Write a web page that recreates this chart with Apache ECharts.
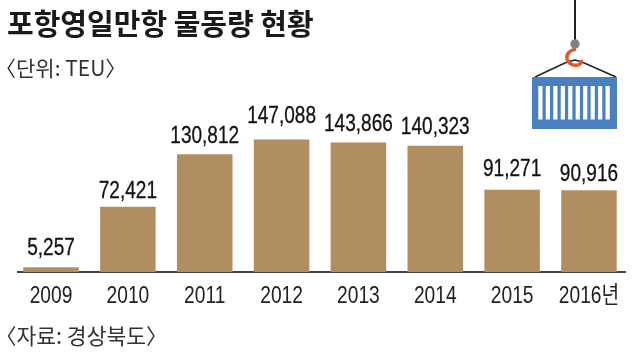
<!DOCTYPE html>
<html>
<head>
<meta charset="utf-8">
<style>html,body{margin:0;padding:0;background:#fff}#chart{width:640px;height:355px}</style>
<script src="https://cdn.jsdelivr.net/npm/echarts@6/dist/echarts.min.js"></script>
</head>
<body>
<div id="chart"></div>
<script>
const years = ['2009', '2010', '2011', '2012', '2013', '2014', '2015', '2016년'];
const teu = [5257, 72421, 130812, 147088, 143866, 140323, 91271, 90916];
const titleText = '포항영일만항 물동량 현황';
const unitText = '〈단위: TEU〉';
const sourceText = '〈자료: 경상북도〉';

const numFont = '"Liberation Sans", "Noto Sans CJK KR", sans-serif';
const krFont = '"Noto Sans CJK KR", sans-serif';

// 막대 위 수치 간격 (원본이 막대마다 조금씩 다름)
const labelGap = [19, 15, 17.5, 23, 18, 18, 20, 16];

// 컨테이너 줄무늬
const stripes = [];
for (let i = 0; i < 10; i++) {
  stripes.push({
    type: 'rect',
    shape: { x: 538.3 + i * 7.47, y: 86, width: 4.2, height: 33.5 },
    style: { fill: '#fff' }
  });
}

// 장체 글자: 막대 위 수치와 연도
function narrowText(x, y, text, size, color, sx, weight) {
  return {
    type: 'text',
    x: x,
    y: y,
    scaleX: sx,
    style: {
      text: text,
      fontFamily: numFont,
      fontSize: size,
      fill: color,
      stroke: color,
      lineWidth: weight,
      align: 'center',
      verticalAlign: 'middle'
    }
  };
}

const hookStyle = { stroke: '#e2572b', lineWidth: 3.5, fill: 'none' };

const myChart = echarts.init(document.getElementById('chart'));
myChart.setOption({
  animation: false,
  title: [
    { text: titleText, left: 2, top: 4, textStyle: { fontFamily: krFont, fontWeight: 'bold', fontSize: 29, color: '#1a1a1a' } },
    { text: unitText, left: -10, top: 53, textStyle: { fontFamily: krFont, fontWeight: 'normal', fontSize: 21, color: '#333' } },
    { text: sourceText, left: -10, top: 320, textStyle: { fontFamily: krFont, fontWeight: 'normal', fontSize: 21.5, color: '#333' } }
  ],
  grid: { left: 12.6, right: 12.6, top: 137, height: 135 },
  xAxis: {
    type: 'category',
    data: years,
    axisTick: { show: false },
    axisLabel: { show: false },
    axisLine: { show: false }
  },
  yAxis: { type: 'value', min: 0, max: 150000, show: false },
  series: [{
    type: 'bar',
    data: teu,
    barWidth: 55.5,
    itemStyle: { color: '#b08e60' }
  }, {
    type: 'custom',
    data: teu.map((v, i) => [i, v]),
    renderItem: function (params, api) {
      const i = api.value(0);
      const v = api.value(1);
      const top = api.coord([i, v]);
      const base = api.coord([i, 0]);
      return {
        type: 'group',
        children: [
          narrowText(top[0], top[1] - labelGap[i], v.toLocaleString('en-US'), 23.5, '#111', 0.81, 0.3),
          narrowText(base[0], base[1] + 24, years[i], 24, '#222', 0.8, 0)
        ]
      };
    }
  }],
  graphic: [
    { type: 'line', shape: { x1: 17, y1: 272, x2: 626, y2: 272 }, style: { stroke: '#444', lineWidth: 2 } },
    { type: 'line', shape: { x1: 575, y1: 0, x2: 575, y2: 42 }, style: { stroke: '#222', lineWidth: 2 } },
    { type: 'polyline', shape: { points: [[535, 77], [567, 62], [575, 60], [582, 62], [616, 77]] }, style: { stroke: '#222', lineWidth: 1.5, fill: 'none' } },
    { type: 'bezierCurve', shape: { x1: 576, y1: 49, cpx1: 570, cpy1: 50, cpx2: 566, cpy2: 54, x2: 567, y2: 59 }, style: hookStyle },
    { type: 'bezierCurve', shape: { x1: 567, y1: 59, cpx1: 568, cpy1: 64, cpx2: 574, cpy2: 66, x2: 578, y2: 65 }, style: hookStyle },
    { type: 'bezierCurve', shape: { x1: 578, y1: 65, cpx1: 581, cpy1: 64, cpx2: 582, cpy2: 62, x2: 581, y2: 60 }, style: hookStyle },
    { type: 'circle', shape: { cx: 575, cy: 44, r: 4.7 }, style: { fill: '#808080' } },
    { type: 'rect', shape: { x: 532, y: 77, width: 85, height: 52 }, style: { fill: '#4a80bf' } }
  ].concat(stripes)
});
</script>
</body>
</html>
